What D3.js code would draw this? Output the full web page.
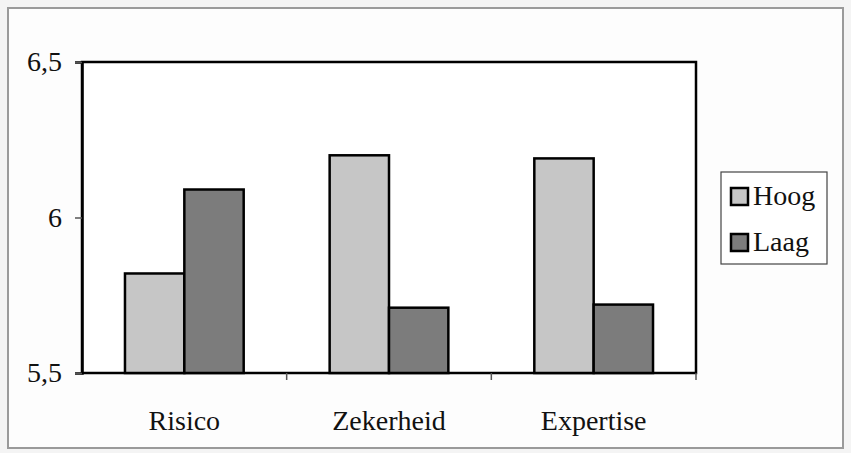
<!DOCTYPE html>
<html><head><meta charset="utf-8">
<script src="https://cdn.jsdelivr.net/npm/d3@7/dist/d3.min.js"></script>
<style>body{margin:0;background:#fff}svg{display:block}</style>
</head><body><svg id="c" width="851" height="453"></svg>
<script>
const categories = ["Risico", "Zekerheid", "Expertise"];
const seriesNames = ["Hoog", "Laag"];
const hoog = [5.82, 6.20, 6.19];
const laag = [6.09, 5.71, 5.72];
const yTicks = [5.5, 6, 6.5];
const yTickLabels = ["5,5", "6", "6,5"];
const colors = ["#c6c6c6", "#7c7c7c"];

const svg = d3.select("#c");
svg.append("rect").attr("x",0).attr("y",0).attr("width",851).attr("height",453).attr("fill","#f4f4f4");
svg.append("rect").attr("x",8).attr("y",8).attr("width",835).attr("height",440).attr("fill","#fdfdfd").attr("stroke","#9a9a9a").attr("stroke-width",2);

const L=82, R=696, T=62, B=373;
const x = d3.scaleBand().domain(categories).range([L,R]).paddingInner(0.42).paddingOuter(0.21);
const xs = d3.scaleBand().domain(seriesNames).range([0,x.bandwidth()]);
const y = d3.scaleLinear().domain([5.5,6.5]).range([B,T]);
const font = "'Liberation Serif','Times New Roman',serif";

svg.append("rect").attr("x",L).attr("y",T).attr("width",R-L).attr("height",B-T).attr("fill","#fff").attr("stroke","#000").attr("stroke-width",2.5);

const data = categories.map((c,i)=>({c, vals:[hoog[i], laag[i]]}));
const g = svg.append("g");
data.forEach(d=>{
  d.vals.forEach((v,j)=>{
    g.append("rect").attr("x", x(d.c)+xs(seriesNames[j])).attr("y", y(v))
      .attr("width", xs.bandwidth()).attr("height", y(5.5)-y(v))
      .attr("fill", colors[j]).attr("stroke","#000").attr("stroke-width",2.5);
  });
});

const yAxis = d3.axisLeft(y).tickValues(yTicks).tickFormat((d,i)=>yTickLabels[i]).tickSize(7).tickPadding(13);
const ya = svg.append("g").attr("transform",`translate(${L},0)`).call(yAxis);
ya.select(".domain").attr("stroke","#000").attr("stroke-width",2.5);
ya.selectAll("line").attr("stroke","#555").attr("stroke-width",1.5);
ya.selectAll("text").attr("font-family",font).attr("font-size",28).attr("fill","#111");

const step = x.step();
const bounds = categories.map((c,i)=>L + step*(i+1));
svg.append("g").selectAll("line").data(bounds).join("line")
  .attr("x1",d=>d).attr("x2",d=>d).attr("y1",B).attr("y2",B+7).attr("stroke","#555").attr("stroke-width",1.5);
const xAxis = d3.axisBottom(x).tickSize(0).tickPadding(37);
const xa = svg.append("g").attr("transform",`translate(0,${B})`).call(xAxis);
xa.select(".domain").remove();
xa.selectAll("text").attr("font-family",font).attr("font-size",28).attr("fill","#111");

const lg = svg.append("g");
lg.append("rect").attr("x",721).attr("y",172).attr("width",106).attr("height",92).attr("fill","#fff").attr("stroke","#444").attr("stroke-width",1.2);
seriesNames.forEach((s,i)=>{
  const cy = 196 + i*46;
  lg.append("rect").attr("x",731).attr("y",cy-8).attr("width",17).attr("height",17).attr("fill",colors[i]).attr("stroke","#000").attr("stroke-width",2.5);
  lg.append("text").attr("x",753).attr("y",cy+9).text(s).attr("font-family",font).attr("font-size",28).attr("fill","#111");
});
</script></body></html>
